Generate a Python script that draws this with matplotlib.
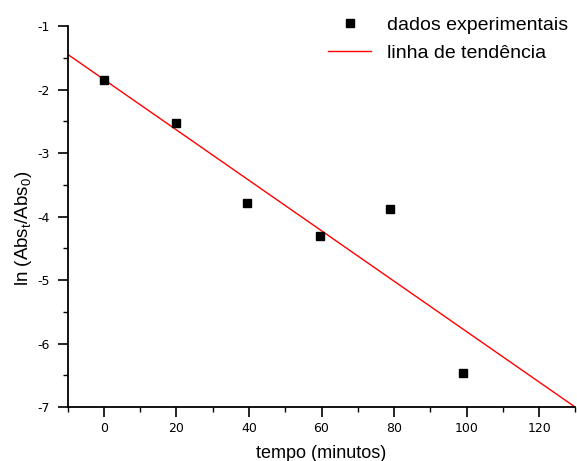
import numpy as np
import matplotlib
matplotlib.use("Agg")
import matplotlib.pyplot as plt
from matplotlib.ticker import MultipleLocator

plt.rcParams['font.family'] = ['Liberation Sans', 'DejaVu Sans']
plt.rcParams['mathtext.fontset'] = 'custom'
plt.rcParams['mathtext.rm'] = 'Liberation Sans'
plt.rcParams['mathtext.it'] = 'Liberation Sans'
plt.rcParams['axes.unicode_minus'] = False

# Experimental data
tempo = [0, 20, 39.5, 59.5, 79, 99]
ln_abs = [-1.85, -2.52, -3.79, -4.30, -3.88, -6.46]

# Linear trend line parameters
slope = -0.0397
intercept = -1.843
x_range = [-10, 130]

fig = plt.figure(figsize=(5.77, 4.61), dpi=100)
ax = fig.add_axes([0.1173, 0.1171, 0.8800, 0.8265])

x_line = np.array(x_range, dtype=float)
ax.plot(x_line, intercept + slope * x_line, color='red', lw=1.0,
        label='linha de tendência', zorder=2)
ax.plot(tempo, ln_abs, 's', color='black', ms=6, lw=0,
        label='dados experimentais', zorder=3)

ax.set_xlim(-10, 130)
ax.set_ylim(-7, -1)
ax.spines['top'].set_visible(False)
ax.spines['right'].set_visible(False)
for s in ('left', 'bottom'):
    ax.spines[s].set_linewidth(1.3)

ax.xaxis.set_major_locator(MultipleLocator(20))
ax.xaxis.set_minor_locator(MultipleLocator(10))
ax.yaxis.set_major_locator(MultipleLocator(1))
ax.yaxis.set_minor_locator(MultipleLocator(0.5))
ax.tick_params(which='major', direction='out', length=7, width=1.2,
               labelsize=9, pad=4)
ax.tick_params(which='minor', direction='out', length=3.5, width=1.0)
ax.tick_params(axis='y', which='major', pad=6)
for lbl in ax.get_xticklabels() + ax.get_yticklabels():
    lbl.set_family('DejaVu Sans')

ax.set_xlabel('tempo (minutos)', fontsize=13, labelpad=7)
ax.set_ylabel(r'ln (Abs$_t$/Abs$_0$)', fontsize=13.5)
ax.yaxis.set_label_coords(-0.066, 0.47)

handles, labels = ax.get_legend_handles_labels()
leg = ax.legend(handles[::-1], labels[::-1], loc='upper right',
                bbox_to_anchor=(1.0, 1.045), frameon=False, fontsize=14,
                handlelength=2.2, handletextpad=0.8, labelspacing=0.5,
                borderaxespad=0.0)

fig.savefig('out.png', dpi=100)
